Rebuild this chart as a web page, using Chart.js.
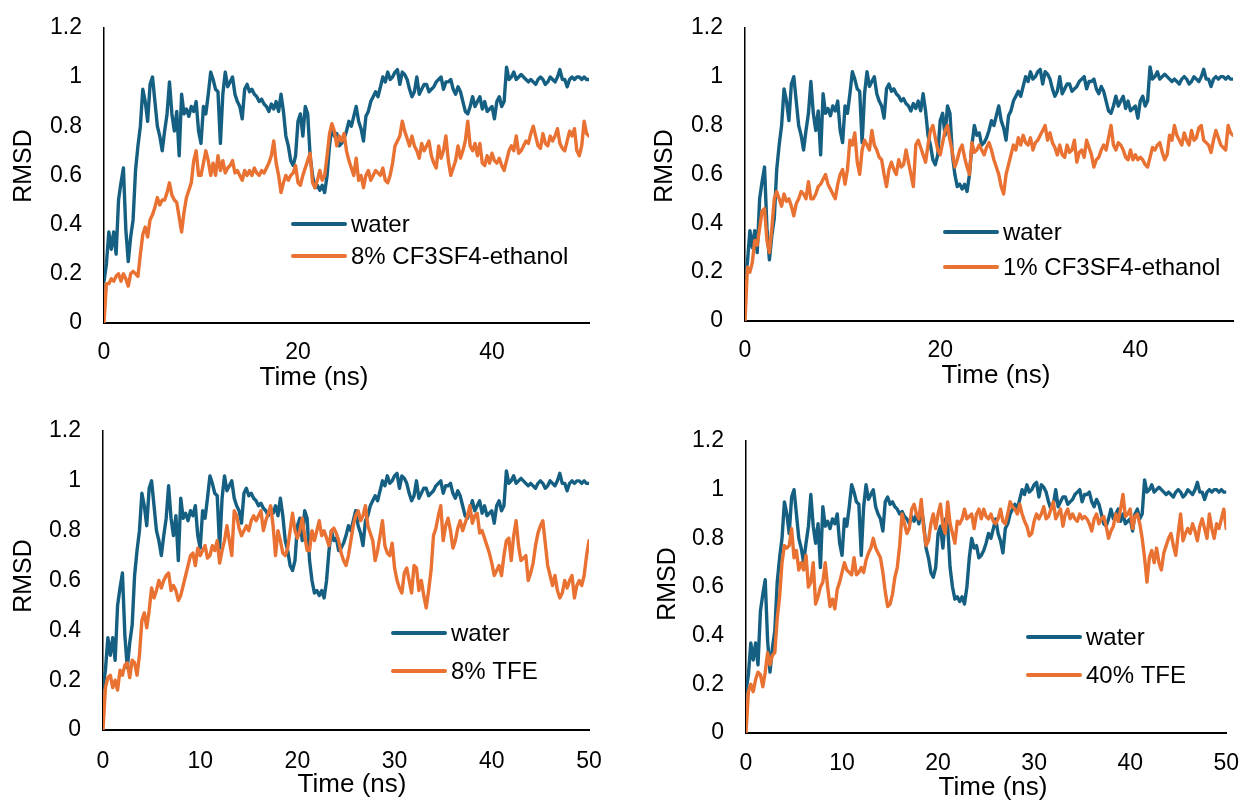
<!DOCTYPE html>
<html>
<head>
<meta charset="utf-8">
<title>RMSD</title>
<script src="https://cdn.jsdelivr.net/npm/chart.js@4.4.1/dist/chart.umd.min.js"></script>
<style>
  html, body { margin: 0; padding: 0; background: #fff; }
  #wrap { position: relative; width: 1248px; height: 803px; overflow: hidden; }
  canvas { position: absolute; }
</style>
</head>
<body>
<div id="wrap">
  <canvas id="c1" width="624" height="400" style="left:0;top:0"></canvas>
  <canvas id="c2" width="624" height="400" style="left:624px;top:0"></canvas>
  <canvas id="c3" width="624" height="403" style="left:0;top:400px"></canvas>
  <canvas id="c4" width="624" height="403" style="left:624px;top:400px"></canvas>
</div>
<script>
// Data: RMSD sampled every 0.25 ns, 0..50 ns
const TIME_STEP = 0.25;

const water = [
  0.17, 0.24, 0.37, 0.3, 0.37, 0.28, 0.5, 0.57, 0.63, 0.38,
  0.25, 0.35, 0.42, 0.62, 0.72, 0.8, 0.95, 0.9, 0.82, 0.97,
  1.0, 0.9, 0.8, 0.76, 0.7, 0.78, 0.85, 0.98, 0.85, 0.78,
  0.86, 0.68, 0.93, 0.85, 0.87, 0.84, 0.88, 0.86, 0.9, 0.78,
  0.73, 0.88, 0.85, 0.93, 1.02, 0.99, 0.95, 0.94, 0.73, 0.93,
  1.02, 0.96, 0.98, 1.0, 0.93, 0.9, 0.88, 0.83, 0.95, 0.97,
  0.94, 0.95, 0.93, 0.92, 0.9, 0.91, 0.89, 0.88, 0.86, 0.89,
  0.87, 0.9, 0.86, 0.93, 0.86, 0.76, 0.72, 0.66, 0.64, 0.68,
  0.82, 0.85, 0.76, 0.88, 0.85, 0.68, 0.6, 0.55, 0.56, 0.54,
  0.56, 0.53, 0.6, 0.72, 0.8, 0.76, 0.77, 0.72, 0.73, 0.75,
  0.78, 0.82, 0.8, 0.84, 0.88, 0.82, 0.79, 0.74, 0.84, 0.86,
  0.9, 0.92, 0.94, 0.92, 0.96, 1.0, 0.98, 1.02, 0.99, 1.0,
  1.02, 1.03, 0.97, 1.02, 1.01, 0.99, 0.95, 0.92, 0.94, 1.0,
  0.93, 0.95, 0.97, 0.97, 0.94, 0.95, 0.96, 0.98, 0.99, 1.0,
  0.95, 0.98, 0.98, 0.99, 0.95, 0.93, 0.96, 0.94, 0.9, 0.86,
  0.85, 0.88, 0.92, 0.88, 0.9, 0.92, 0.87, 0.9, 0.86, 0.87,
  0.88, 0.83, 0.9, 0.92, 0.88, 0.9, 1.04, 0.99, 1.0, 1.02,
  0.99, 1.0, 1.01, 1.0, 0.99, 0.98, 0.99, 0.98, 0.97, 0.99,
  1.0, 0.99, 0.97, 0.98, 1.0, 0.99, 0.98, 1.0, 1.03, 0.99,
  0.99, 0.96, 0.99, 1.0, 0.99, 1.0, 1.0, 0.99, 1.0, 0.99,
  0.99
];

const cf3sf4_8 = [
  0, 0.16, 0.16, 0.18, 0.17, 0.19, 0.2, 0.17, 0.2, 0.18,
  0.15, 0.2, 0.21, 0.2, 0.19, 0.28, 0.36, 0.39, 0.35, 0.42,
  0.44, 0.47, 0.51, 0.48, 0.5, 0.5, 0.53, 0.57, 0.52, 0.5,
  0.49, 0.43, 0.37, 0.45, 0.51, 0.54, 0.57, 0.66, 0.7, 0.6,
  0.6, 0.65, 0.7, 0.66, 0.6, 0.65, 0.6, 0.68, 0.62, 0.66,
  0.61, 0.63, 0.64, 0.66, 0.61, 0.62, 0.6, 0.58, 0.62, 0.6,
  0.62, 0.6, 0.63, 0.61, 0.6, 0.62, 0.61, 0.63, 0.65, 0.68,
  0.74, 0.65, 0.6, 0.53, 0.57, 0.6, 0.58, 0.6, 0.61, 0.64,
  0.57, 0.56, 0.6, 0.63, 0.66, 0.69, 0.57, 0.55, 0.58, 0.62,
  0.58, 0.6, 0.68, 0.77, 0.81, 0.78, 0.72, 0.76, 0.74, 0.77,
  0.7, 0.66, 0.63, 0.6, 0.67, 0.58, 0.6, 0.55, 0.6, 0.62,
  0.58, 0.6, 0.62, 0.61, 0.6, 0.63, 0.58, 0.57, 0.6, 0.65,
  0.72, 0.74, 0.76, 0.82, 0.78, 0.75, 0.72, 0.76, 0.72, 0.7,
  0.67, 0.73, 0.7, 0.72, 0.74, 0.68, 0.65, 0.63, 0.72, 0.67,
  0.7, 0.76, 0.66, 0.6, 0.63, 0.66, 0.72, 0.67, 0.7, 0.74,
  0.82, 0.72, 0.7, 0.73, 0.68, 0.73, 0.65, 0.64, 0.68, 0.65,
  0.69, 0.66, 0.65, 0.67, 0.64, 0.62, 0.66, 0.7, 0.72, 0.7,
  0.76, 0.69, 0.7, 0.72, 0.74, 0.73, 0.77, 0.8, 0.76, 0.72,
  0.71, 0.77, 0.73, 0.72, 0.76, 0.74, 0.76, 0.79, 0.73, 0.71,
  0.7, 0.74, 0.78, 0.76, 0.79, 0.7, 0.68, 0.72, 0.82, 0.77,
  0.76
];

const cf3sf4_1 = [
  0, 0.22, 0.2, 0.24, 0.33, 0.31, 0.38, 0.45, 0.46, 0.33,
  0.28, 0.38, 0.5, 0.53, 0.5, 0.47, 0.52, 0.49, 0.5, 0.47,
  0.43, 0.48, 0.5, 0.53, 0.52, 0.5, 0.57, 0.5, 0.5, 0.52,
  0.55, 0.56, 0.58, 0.6, 0.56, 0.54, 0.52, 0.5, 0.56, 0.6,
  0.62, 0.56, 0.62, 0.74, 0.72, 0.77, 0.65, 0.6, 0.7, 0.74,
  0.72, 0.7, 0.78, 0.72, 0.7, 0.67, 0.66, 0.6, 0.55, 0.62,
  0.65, 0.62, 0.6, 0.66, 0.63, 0.64, 0.7, 0.65, 0.6, 0.55,
  0.72, 0.74, 0.71, 0.68, 0.65, 0.72, 0.78, 0.8, 0.75, 0.7,
  0.68, 0.73, 0.78, 0.8, 0.74, 0.69, 0.63, 0.66, 0.7, 0.72,
  0.67, 0.63, 0.6, 0.73, 0.69, 0.7, 0.72, 0.7, 0.68, 0.71,
  0.73, 0.7, 0.66, 0.63, 0.6, 0.55, 0.52, 0.6, 0.64, 0.68,
  0.72, 0.7, 0.75, 0.72, 0.76, 0.73, 0.72, 0.75, 0.7, 0.73,
  0.74, 0.76, 0.78, 0.8, 0.74, 0.77, 0.73, 0.71, 0.68, 0.72,
  0.68, 0.67, 0.72, 0.69, 0.7, 0.74, 0.65, 0.69, 0.7, 0.67,
  0.74, 0.71, 0.68, 0.63, 0.66, 0.67, 0.7, 0.72, 0.7, 0.75,
  0.8, 0.72, 0.7, 0.73, 0.72, 0.7, 0.67, 0.66, 0.7, 0.66,
  0.68, 0.66, 0.67, 0.66, 0.64, 0.63, 0.67, 0.71, 0.7, 0.72,
  0.73, 0.69, 0.66, 0.68, 0.76, 0.74, 0.8, 0.76, 0.74, 0.72,
  0.77, 0.74, 0.72, 0.78, 0.74, 0.75, 0.79, 0.8, 0.74, 0.73,
  0.72, 0.69, 0.74, 0.78, 0.75, 0.72, 0.71, 0.7, 0.8, 0.77,
  0.76
];

const tfe_8 = [
  0, 0.17, 0.21, 0.22, 0.17, 0.2, 0.16, 0.24, 0.22, 0.26,
  0.27, 0.21, 0.28, 0.27, 0.22, 0.3, 0.44, 0.47, 0.41, 0.48,
  0.57, 0.53, 0.56, 0.6, 0.57, 0.6, 0.62, 0.63, 0.56, 0.58,
  0.56, 0.52, 0.54, 0.58, 0.62, 0.66, 0.7, 0.71, 0.66, 0.73,
  0.7, 0.72, 0.74, 0.69, 0.7, 0.74, 0.72, 0.76, 0.67, 0.72,
  0.76, 0.82, 0.76, 0.7, 0.88, 0.86, 0.81, 0.78, 0.8, 0.82,
  0.8, 0.84, 0.86, 0.84, 0.86, 0.88, 0.8, 0.84, 0.87, 0.9,
  0.82, 0.7, 0.8, 0.76, 0.71, 0.7, 0.73, 0.8, 0.87, 0.8,
  0.77, 0.8, 0.85, 0.78, 0.72, 0.72, 0.8, 0.76, 0.8, 0.84,
  0.78, 0.8, 0.77, 0.74, 0.8, 0.81, 0.79, 0.76, 0.71, 0.68,
  0.66, 0.7, 0.76, 0.82, 0.86, 0.88, 0.84, 0.86, 0.9, 0.82,
  0.79, 0.76, 0.68, 0.72, 0.78, 0.84, 0.74, 0.71, 0.7, 0.75,
  0.65, 0.6, 0.57, 0.55, 0.63, 0.65, 0.6, 0.55, 0.66, 0.65,
  0.56, 0.6, 0.54, 0.49, 0.56, 0.64, 0.78, 0.81, 0.86, 0.9,
  0.76, 0.82, 0.85, 0.8, 0.73, 0.76, 0.81, 0.84, 0.8, 0.83,
  0.86, 0.9, 0.83, 0.86, 0.87, 0.79, 0.8, 0.77, 0.74, 0.71,
  0.67, 0.62, 0.64, 0.66, 0.62, 0.7, 0.76, 0.77, 0.68, 0.78,
  0.84, 0.74, 0.68, 0.69, 0.7, 0.6, 0.63, 0.67, 0.74, 0.79,
  0.82, 0.84, 0.75, 0.66, 0.62, 0.58, 0.62, 0.56, 0.53, 0.55,
  0.6, 0.57, 0.6, 0.62, 0.53, 0.58, 0.6, 0.58, 0.62, 0.7,
  0.76
];

const tfe_40 = [
  0, 0.17, 0.2, 0.17, 0.22, 0.25, 0.24, 0.19, 0.25, 0.33,
  0.28, 0.32, 0.33, 0.47, 0.56, 0.7, 0.77, 0.76, 0.77, 0.84,
  0.72, 0.75, 0.67, 0.7, 0.67, 0.73, 0.6, 0.62, 0.7, 0.53,
  0.56, 0.6, 0.62, 0.7, 0.6, 0.52, 0.55, 0.51, 0.59, 0.62,
  0.66, 0.7, 0.67, 0.66, 0.65, 0.72, 0.65, 0.66, 0.68, 0.66,
  0.71, 0.74, 0.76, 0.8, 0.76, 0.74, 0.72, 0.66, 0.58, 0.52,
  0.53, 0.57, 0.64, 0.68, 0.77, 0.9, 0.86, 0.82, 0.84, 0.92,
  0.94, 0.9, 0.88, 0.96, 0.84, 0.77, 0.79, 0.86, 0.9, 0.84,
  0.9, 0.94, 0.85, 0.82, 0.95, 0.86, 0.82, 0.78, 0.87, 0.86,
  0.88, 0.92, 0.88, 0.89, 0.9, 0.84, 0.9, 0.92, 0.88, 0.92,
  0.89, 0.88, 0.9, 0.87, 0.86, 0.88, 0.92, 0.87, 0.86, 0.9,
  0.95, 0.93, 0.92, 0.9, 0.94, 0.9, 0.87, 0.85, 0.81, 0.82,
  0.87, 0.9, 0.88, 0.9, 0.93, 0.88, 0.89, 0.92, 0.95, 0.88,
  0.9, 0.92, 0.85, 0.9, 0.92, 0.88, 0.9, 0.88, 0.87, 0.9,
  0.88, 0.89, 0.88, 0.86, 0.83, 0.88, 0.9, 0.86, 0.88, 0.89,
  0.85, 0.8, 0.83, 0.85, 0.9, 0.87, 0.92, 0.98, 0.89, 0.9,
  0.92, 0.84, 0.89, 0.9, 0.86, 0.8, 0.72, 0.62, 0.72, 0.75,
  0.7, 0.76, 0.7, 0.67, 0.74, 0.77, 0.8, 0.82, 0.77, 0.73,
  0.82, 0.9, 0.79, 0.82, 0.84, 0.82, 0.86, 0.83, 0.79, 0.85,
  0.88, 0.84, 0.8, 0.9, 0.84, 0.8, 0.86, 0.84, 0.88, 0.92,
  0.84
];

const yTicks = { min: 0, max: 1.2, step: 0.2 };
const xTicks = { min: 0, max: 50 };

const BLUE = "#156082";
const ORANGE = "#E97132";
const FONT = '"Liberation Sans", Arial, Helvetica, sans-serif';

Chart.defaults.font.family = FONT;
Chart.defaults.color = "#000";

// axis titles + legend drawn at fixed spots, like the Excel original
const panelText = {
  id: "panelText",
  afterDraw(chart, args, o) {
    const ctx = chart.ctx;
    ctx.save();
    ctx.fillStyle = "#000";
    ctx.textBaseline = "middle";

    ctx.font = "26px " + FONT;
    ctx.textAlign = "center";
    ctx.fillText("Time (ns)", o.xTitle[0], o.xTitle[1]);

    ctx.save();
    ctx.translate(o.yTitle[0], o.yTitle[1]);
    ctx.rotate(-Math.PI / 2);
    ctx.font = "25px " + FONT;
    ctx.fillText("RMSD", 0, 0);
    ctx.restore();

    ctx.font = "24px " + FONT;
    ctx.textAlign = "left";
    ctx.lineWidth = 4;
    ctx.lineCap = "round";
    chart.data.datasets.forEach((ds, i) => {
      const y = o.legend.y + i * o.legend.dy;
      ctx.strokeStyle = ds.borderColor;
      ctx.beginPath();
      ctx.moveTo(o.legend.x, y);
      ctx.lineTo(o.legend.x + 52, y);
      ctx.stroke();
      ctx.fillText(ds.label, o.legend.x + 58, y + 1);
    });
    ctx.restore();
  },
};

function toPoints(values) {
  return values.map((v, i) => ({ x: i * TIME_STEP, y: v }));
}

function makePanel(id, series, label, p) {
  const canvas = document.getElementById(id);
  return new Chart(canvas, {
    type: "line",
    data: {
      datasets: [
        { label: "water", data: toPoints(water), borderColor: BLUE, order: 1 },
        { label: label, data: toPoints(series), borderColor: ORANGE, order: 0 },
      ],
    },
    options: {
      responsive: false,
      animation: false,
      devicePixelRatio: 1,
      events: [],
      elements: {
        point: { radius: 0 },
        line: {
          borderWidth: 3.4,
          tension: 0,
          borderJoinStyle: "round",
          borderCapStyle: "round",
        },
      },
      layout: {
        padding: {
          left: 0,
          top: p.area.top,
          right: canvas.width - p.area.right,
          bottom: canvas.height - p.area.bottom - 70,
        },
      },
      scales: {
        x: {
          type: "linear",
          min: xTicks.min,
          max: xTicks.max,
          grid: { display: false },
          border: { display: true, color: "#000", width: 2 },
          ticks: {
            stepSize: p.xStep,
            includeBounds: false,
            padding: p.xPad,
            maxRotation: 0,
            color: "#000",
            font: { size: 23 },
          },
          afterFit: (s) => {
            s.height = 70;
          },
        },
        y: {
          min: yTicks.min,
          max: yTicks.max,
          grid: { display: false },
          border: { display: true, color: "#000", width: 1.5 },
          ticks: {
            stepSize: yTicks.step,
            padding: 14,
            color: "#000",
            font: { size: 23 },
            callback: (v) => String(+v.toFixed(1)),
          },
          afterFit: (s) => {
            s.width = p.area.left;
          },
        },
      },
      plugins: {
        legend: { display: false },
        tooltip: { enabled: false },
        panelText: {
          xTitle: p.xTitle,
          yTitle: p.yTitle,
          legend: p.legend,
        },
      },
    },
    plugins: [panelText],
  });
}

makePanel("c1", cf3sf4_8, "8% CF3SF4-ethanol", {
  area: { left: 104, right: 589, top: 23, bottom: 323 },
  xStep: 20, xPad: 8,
  xTitle: [314, 378], yTitle: [24, 166],
  legend: { x: 293, y: 224, dy: 32 },
});
makePanel("c2", cf3sf4_1, "1% CF3SF4-ethanol", {
  area: { left: 121, right: 609, top: 23, bottom: 321 },
  xStep: 20, xPad: 8,
  xTitle: [372, 376], yTitle: [41, 166],
  legend: { x: 321, y: 232, dy: 35 },
});
makePanel("c3", tfe_8, "8% TFE", {
  area: { left: 103, right: 589, top: 31, bottom: 330 },
  xStep: 10, xPad: 10,
  xTitle: [352, 385], yTitle: [24, 176],
  legend: { x: 393, y: 233, dy: 38 },
});
makePanel("c4", tfe_40, "40% TFE", {
  area: { left: 122, right: 608, top: 41, bottom: 333 },
  xStep: 10, xPad: 9,
  xTitle: [369, 388], yTitle: [44, 184],
  legend: { x: 404, y: 237, dy: 38 },
});
</script>
</body>
</html>
